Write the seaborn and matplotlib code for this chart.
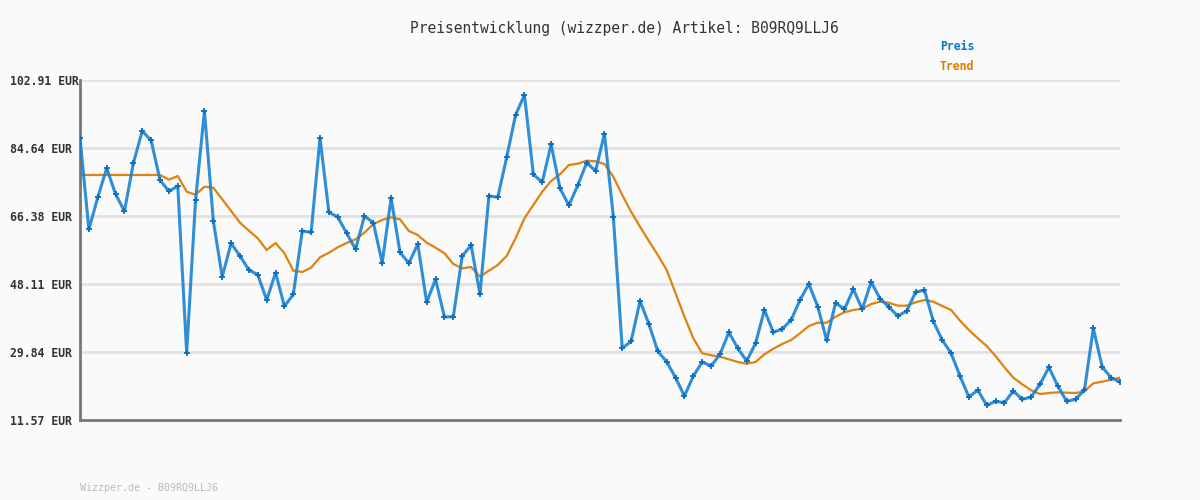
import matplotlib
matplotlib.use('Agg')
import matplotlib.pyplot as plt
import seaborn as sns
import pandas as pd

# Preis (EUR), one value per data point, left to right
preis = [
    87.25, 62.80, 71.40, 79.19, 72.28, 67.64, 80.53, 89.21, 86.71, 76.05,
    73.01, 74.43, 29.65, 70.67, 94.58, 65.03, 50.07, 59.04, 55.63, 51.87,
    50.60, 43.81, 51.14, 42.12, 45.34, 62.34, 61.99, 87.33, 67.37, 66.11,
    61.73, 57.43, 66.37, 64.57, 53.83, 71.21, 56.62, 53.67, 58.85, 43.19,
    49.37, 39.24, 39.32, 55.63, 58.50, 45.34, 71.75, 71.40, 82.14, 93.51,
    98.88, 77.58, 75.43, 85.64, 73.82, 69.25, 74.62, 80.69, 78.46, 88.48,
    66.19, 30.83, 32.71, 43.54, 37.36, 30.03, 27.23, 22.93, 18.02, 23.39,
    27.15, 26.08, 29.22, 35.13, 30.83, 27.42, 32.18, 41.12, 35.13, 36.02,
    38.43, 43.81, 48.11, 42.01, 32.98, 43.08, 41.31, 46.76, 41.31, 48.64,
    44.21, 41.93, 39.51, 40.85, 45.88, 46.49, 38.09, 33.06, 29.49, 23.39,
    17.75, 19.63, 15.52, 16.59, 16.22, 19.36, 17.13, 17.75, 21.16, 25.73,
    20.70, 16.59, 17.13, 19.63, 36.21, 25.81, 22.93, 21.78,
]

# Trend (EUR)
trend = [
    77.39, 77.39, 77.39, 77.39, 77.39, 77.39, 77.39, 77.39, 77.39, 77.39,
    76.13, 77.12, 72.90, 72.10, 74.25, 73.98, 70.86, 67.72, 64.57, 62.43,
    60.38, 57.24, 59.12, 56.35, 51.68, 51.33, 52.49, 55.28, 56.51, 57.97,
    59.12, 60.11, 61.89, 64.22, 65.30, 66.03, 65.49, 62.34, 61.27, 59.20,
    57.86, 56.35, 53.48, 52.32, 52.67, 50.07, 51.68, 53.21, 55.63, 60.38,
    65.76, 69.33, 72.90, 75.78, 77.58, 80.07, 80.43, 81.23, 81.07, 80.34,
    76.93, 72.02, 67.53, 63.50, 59.66, 55.90, 51.87, 45.61, 39.32, 33.52,
    29.49, 28.95, 28.58, 27.88, 27.15, 26.69, 27.15, 29.22, 30.72, 31.99,
    33.06, 34.86, 36.82, 37.71, 37.71, 39.32, 40.50, 41.12, 41.47, 42.73,
    43.35, 43.08, 42.28, 42.28, 43.19, 43.81, 43.35, 42.20, 41.12, 38.25,
    35.75, 33.52, 31.45, 28.76, 25.73, 22.93, 21.16, 19.55, 18.55, 18.82,
    19.01, 18.90, 18.82, 19.28, 21.43, 21.86, 22.40, 22.93,
]

y_ticks = [11.57, 29.84, 48.11, 66.38, 84.64, 102.91]
y_labels = ['%.2f EUR' % v for v in y_ticks]

title = 'Preisentwicklung (wizzper.de) Artikel: B09RQ9LLJ6'
footer = 'Wizzper.de - B09RQ9LLJ6'

BG = '#fafafa'
BLUE = '#1a82d2'
BLUE_DARK = '#0a6cbf'
ORANGE = '#e0820f'

df = pd.DataFrame({'idx': range(len(preis)), 'Preis': preis, 'Trend': trend})

sns.set_style('white')
plt.rcParams['font.family'] = ['DejaVu Sans Mono', 'DejaVu Sans']

fig = plt.figure(figsize=(12, 5), dpi=100, facecolor=BG)
ax = fig.add_axes([80 / 1200, 80 / 500, 1040 / 1200, 340 / 500])
ax.set_facecolor(BG)

# grid lines
for v in y_ticks:
    ax.axhline(v, color='#e2e2e2', lw=2, zorder=0)

sns.lineplot(data=df, x='idx', y='Trend', ax=ax, color=ORANGE, lw=1.6, zorder=2)
sns.lineplot(data=df, x='idx', y='Preis', ax=ax, color=BLUE, lw=2.2, alpha=0.9,
             marker='P', markersize=5, markeredgewidth=0,
             markerfacecolor=BLUE_DARK, zorder=3)

ax.set_xlim(0, len(preis) - 1)
ax.set_ylim(y_ticks[0], y_ticks[-1])
ax.set_xticks([])
ax.set_yticks(y_ticks)
ax.set_yticklabels(y_labels, fontsize=8.3, fontweight='bold', color='#333333',
                   ha='left')
ax.tick_params(axis='y', length=0, pad=50.4)
ax.set_xlabel('')
ax.set_ylabel('')

for s in ['top', 'right']:
    ax.spines[s].set_visible(False)
for s in ['left', 'bottom']:
    ax.spines[s].set_color('#777777')
    ax.spines[s].set_linewidth(2)

fig.text(624 / 1200, 1 - 28 / 500, title, ha='center', va='center',
         fontsize=10.5, color='#333333')
fig.text(940 / 1200, 1 - 47 / 500, 'Preis', ha='left', va='center',
         fontsize=8.3, fontweight='bold', color='#0a78c8')
fig.text(940 / 1200, 1 - 67 / 500, 'Trend', ha='left', va='center',
         fontsize=8.3, fontweight='bold', color='#dd7a00')
fig.text(80 / 1200, 1 - 488 / 500, footer, ha='left', va='center',
         fontsize=7.2, color='#bbbbbb')

plt.savefig('out.png', dpi=100, facecolor=BG)
